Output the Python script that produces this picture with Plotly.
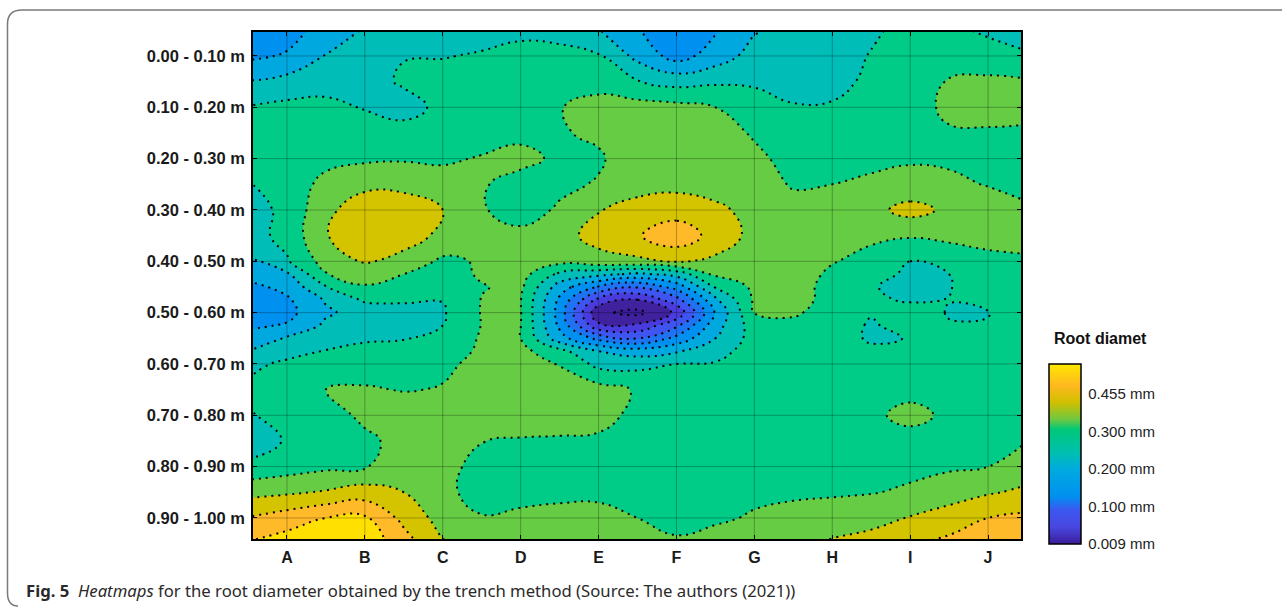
import plotly.graph_objects as go

columns = ["A", "B", "C", "D", "E", "F", "G", "H", "I", "J"]
column_pos = [0, 1, 2, 3, 4, 5, 6, 7, 8, 9]
depths = ["0.00 - 0.10 m", "0.10 - 0.20 m", "0.20 - 0.30 m", "0.30 - 0.40 m", "0.40 - 0.50 m",
          "0.50 - 0.60 m", "0.60 - 0.70 m", "0.70 - 0.80 m", "0.80 - 0.90 m", "0.90 - 1.00 m"]
depth_pos = [0, 1, 2, 3, 4, 5, 6, 7, 8, 9]
x_grid = [-0.5, 0, 0.5, 1, 1.5, 2, 2.5, 3, 3.5, 4, 4.5, 5, 5.5, 6, 6.5, 7, 7.5, 8, 8.5, 9, 9.5]
y_grid = [-0.5, 0, 0.5, 1, 1.5, 2, 2.5, 3, 3.5, 4, 4.25, 4.5, 4.75, 5, 5.25, 5.5, 5.75, 6, 6.5, 7, 7.5, 8, 8.5, 9, 9.5]

# Estimated root diameter, expressed in contour-band units
z_values = [
 [-1.6,-1.4,-0.6,0.1,0.4,0.5,0.6,0.75,0.65,0.05,-0.9,-2.0,-1.1,-0.1,0.3,0.5,0.85,1.3,1.2,0.85,0.6],
 [-1.2,-0.9,0.05,0.6,0.97,0.95,1.1,1.35,1.3,1.1,-0.3,-1.4,-0.55,0.4,0.55,0.6,1.05,1.6,1.7,1.4,1.1],
 [0.05,0.35,0.7,0.7,1.1,1.4,1.5,1.6,1.7,1.6,1.05,0.65,0.85,0.85,0.5,0.7,1.2,1.6,2.05,2.2,2.1],
 [1.05,1.25,1.2,0.95,0.7,1.2,1.6,1.8,1.95,2.4,2.4,2.3,2.0,1.5,1.1,1.1,1.4,1.6,2.2,2.5,2.3],
 [1.5,1.7,1.7,1.4,1.3,1.5,1.7,1.75,1.9,2.2,2.6,2.6,2.4,1.9,1.6,1.6,1.7,1.7,1.9,1.85,1.85],
 [1.6,1.75,1.8,1.85,1.9,1.9,2.05,2.3,1.8,1.85,2.7,2.8,2.6,2.2,1.7,1.65,1.8,1.9,1.85,1.6,1.5],
 [0.9,1.6,2.2,2.7,2.75,2.3,2.1,1.6,1.75,2.1,2.6,2.75,2.6,2.5,1.9,2.0,2.15,2.3,2.2,1.95,1.8],
 [0.5,1.3,2.7,3.7,3.5,3.0,2.1,1.5,2.15,2.95,3.4,3.5,3.2,2.7,2.4,2.5,2.7,3.35,2.8,2.5,2.1],
 [0.6,1.3,2.95,3.6,3.4,2.8,2.4,2.3,2.7,3.3,3.9,4.7,3.6,2.7,2.6,2.5,2.15,2.1,2.15,2.25,2.25],
 [-0.1,0.9,2.4,3.1,2.7,1.8,2.1,2.6,2.3,2.7,2.8,3.1,2.8,2.4,2.3,2.05,1.75,1.0,1.6,1.8,1.9],
 [-0.6,-0.15,1.95,2.5,2.0,1.65,2.1,2.4,0.8,0.3,-0.2,0.4,2.2,2.3,2.4,1.85,1.5,0.75,1.0,1.7,1.8],
 [-1.3,-0.7,0.95,1.9,1.6,1.5,1.95,2.2,-0.5,-2.1,-2.9,-1.6,1.1,2.2,2.5,1.6,1.1,0.6,0.95,1.6,1.7],
 [-1.6,-1.15,0.1,1.15,1.15,1.03,2.03,2.03,-1.2,-4.3,-5.0,-3.4,-0.2,2.15,2.4,1.65,1.15,0.9,1.02,1.3,1.65],
 [-1.8,-1.3,-0.15,0.4,0.6,0.9,2.05,2.05,-1.4,-5.8,-6.3,-4.8,-0.9,2.02,2.1,1.7,1.1,1.4,0.95,0.97,1.6],
 [-1.2,-0.9,0.2,0.65,0.75,1.0,2.03,2.02,-1.2,-4.8,-4.8,-3.2,-0.4,1.5,1.8,1.7,0.85,1.5,1.05,1.05,1.65],
 [-0.6,0.1,0.6,0.9,0.95,1.3,2.1,2.0,-0.6,-2.3,-3.1,-1.7,0.0,1.4,1.7,1.7,0.8,1.05,1.6,1.6,1.7],
 [0.0,0.45,1.05,1.2,1.3,1.55,2.15,2.3,1.3,0.0,-0.5,-0.1,0.5,1.6,1.7,1.7,1.3,1.1,1.65,1.7,1.7],
 [0.6,1.3,1.4,1.5,1.7,1.85,2.2,2.5,1.95,0.7,0.7,1.0,1.1,1.7,1.7,1.7,1.65,1.6,1.65,1.7,1.7],
 [1.3,1.55,2.0,2.1,1.95,2.05,2.4,2.5,2.4,2.4,1.9,1.7,1.7,1.7,1.7,1.7,1.7,1.7,1.7,1.7,1.7],
 [0.9,1.35,1.6,2.2,2.6,2.8,2.7,2.65,2.6,2.4,1.7,1.6,1.6,1.6,1.6,1.65,1.8,2.3,1.8,1.6,1.7],
 [0.4,1.1,1.5,1.8,2.3,2.5,2.02,1.9,1.85,1.8,1.6,1.5,1.5,1.5,1.5,1.5,1.5,1.6,1.6,1.6,2.0],
 [1.25,1.55,1.8,1.95,2.3,2.3,1.7,1.6,1.6,1.6,1.55,1.5,1.5,1.55,1.6,1.6,1.7,1.75,1.85,2.0,2.5],
 [2.7,2.85,3.1,3.45,3.0,2.2,1.7,1.7,1.85,1.9,1.7,1.6,1.7,1.8,1.85,1.85,1.95,2.15,2.6,2.9,3.2],
 [4.05,4.5,5.0,5.15,3.7,2.6,2.05,2.2,2.2,2.15,2.0,1.6,1.85,2.1,2.3,2.6,2.75,3.05,3.4,4.0,4.2],
 [5.1,5.5,5.8,5.6,4.5,3.1,2.6,2.6,2.6,2.6,2.4,2.2,2.4,2.6,2.8,3.1,3.3,3.95,4.3,4.5,4.6],
]

band_colors = ["#3a1c98", "#40229f", "#4a3cdc", "#3f55f0", "#1f72f2", "#0090f0", "#00a8e0",
               "#00bdb8", "#00cc88", "#66cc44", "#d4c400", "#ffba2a", "#ffe000"]
bar_stops = [0, 0.097, 0.19, 0.264, 0.413, 0.507, 0.637, 0.693, 0.786, 0.88, 1]
bar_colors = ["#3c1c9c", "#4848e0", "#3c58f0", "#0090f0", "#00aae0", "#00bfb0",
              "#00c878", "#70c840", "#cfc000", "#ffb820", "#ffe800"]
bar_ticks = [0, 1, 2, 3, 4]
bar_labels = ["0.009 mm", "0.100 mm", "0.200 mm", "0.300 mm", "0.455 mm"]

W, H = 1282, 607
L, R, T, B = 253, 1021, 32, 539
FONT = "Liberation Sans"

n = len(band_colors) - 1
fig = go.Figure()
fig.add_trace(go.Contour(
    x=x_grid, y=y_grid, z=z_values,
    contours=dict(coloring="fill", start=-6, end=5, size=1, showlabels=False),
    autocontour=False,
    colorscale=[[i / n, c] for i, c in enumerate(band_colors)],
    line=dict(color="#000000", width=2, dash="2px,5px", smoothing=1.3),
    showscale=False, hoverinfo="skip",
))
fig.add_trace(go.Scatter(
    x=[None], y=[None], mode="markers", showlegend=False, hoverinfo="skip",
    marker=dict(
        color=[0, 4.8], cmin=0, cmax=4.8,
        colorscale=[[s, c] for s, c in zip(bar_stops, bar_colors)],
        showscale=True,
        colorbar=dict(
            thickness=32, thicknessmode="pixels", len=180, lenmode="pixels",
            x=1049 / W, xanchor="left", y=1 - 544 / H, yanchor="bottom", ypad=0, xpad=0,
            tickmode="array", tickvals=bar_ticks, ticktext=bar_labels,
            ticks="outside", ticklen=4, tickcolor="rgba(0,0,0,0)",
            tickfont=dict(family=FONT, size=15, color="#222222"),
            outlinecolor="#000000", outlinewidth=1.5,
        ),
    ),
))

shapes = []
for v in column_pos:
    shapes.append(dict(type="line", xref="x", yref="y domain", x0=v, x1=v, y0=0, y1=1,
                       line=dict(color="rgba(0,0,0,0.28)", width=1)))
for v in depth_pos:
    shapes.append(dict(type="line", xref="x domain", yref="y", x0=0, x1=1, y0=v, y1=v,
                       line=dict(color="rgba(0,0,0,0.28)", width=1)))
def px(v): return v / W
def py(v): return 1 - v / H
shapes.append(dict(type="path", xref="paper", yref="paper",
                   path=f"M {px(1290)},{py(10)} L {px(22)},{py(10)} Q {px(7.5)},{py(10)} {px(7.5)},{py(24)} "
                        f"L {px(7.5)},{py(593)} Q {px(7.5)},{py(606)} {px(18)},{py(606)}",
                   line=dict(color="#7a7a7a", width=1.5)))

fig.update_layout(
    width=W, height=H, margin=dict(l=0, r=0, t=0, b=0),
    paper_bgcolor="#ffffff", plot_bgcolor="#ffffff", showlegend=False, shapes=shapes,
    xaxis=dict(domain=[L / W, R / W], range=[-0.436, 9.423], tickmode="array", tickvals=column_pos,
               ticktext=columns, ticks="inside", ticklen=4, tickcolor="#000000", mirror="ticks",
               showline=True, linecolor="#000000", linewidth=1.5, showgrid=False, zeroline=False,
               ticklabelstandoff=3, tickfont=dict(family=FONT, size=16, color="#1a1a1a", weight="bold")),
    yaxis=dict(domain=[1 - B / H, 1 - T / H], range=[9.41, -0.467], tickmode="array", tickvals=depth_pos,
               ticktext=depths, ticks="inside", ticklen=4, tickcolor="#000000", mirror="ticks",
               showline=True, linecolor="#000000", linewidth=1.5, showgrid=False, zeroline=False,
               ticklabelstandoff=3, tickfont=dict(family=FONT, size=16.5, color="#1a1a1a", weight="bold")),
    annotations=[
        dict(xref="paper", yref="paper", x=24 / W, y=1 - 590 / H, xanchor="left", yanchor="middle",
             showarrow=False, align="left",
             text="<b>Fig. 5</b>  <i>Heatmaps</i> for the root diameter obtained by the trench method (Source: The authors (2021))",
             font=dict(family="Noto Sans", size=16.7, color="#2a2a2a")),
        dict(xref="paper", yref="paper", x=1052 / W, y=1 - 338 / H, xanchor="left", yanchor="middle",
             showarrow=False, text="<b>Root diamet</b>",
             font=dict(family=FONT, size=16, color="#111111")),
    ],
)
fig.write_html("out.html", config={"displayModeBar": False}, post_script="document.body.style.margin='0';")
